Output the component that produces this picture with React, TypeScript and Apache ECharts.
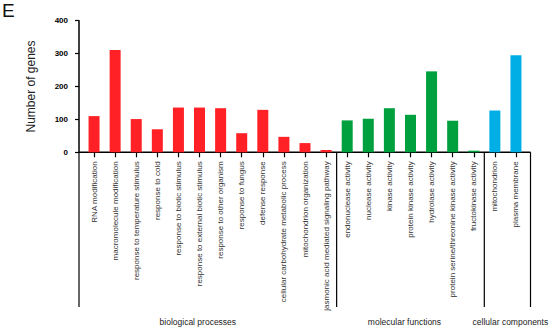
import React, { useEffect, useRef } from "react";
import * as echarts from "echarts";

const categories = [
  "RNA modification",
  "macromolecule modification",
  "response to temperature stimulus",
  "response to cold",
  "response to biotic stimulus",
  "response to external biotic stimulus",
  "response to other organism",
  "response to fungus",
  "defense response",
  "cellular carbohydrate metabolic process",
  "mitochondrion organization",
  "jasmonic acid mediated signaling pathway",
  "endonuclease activity",
  "nuclease activity",
  "kinase activity",
  "protein kinase activity",
  "hydrolase activity",
  "protein serine/threonine kinase activity",
  "fructokinase activity",
  "mitochondrion",
  "plasma membrane",
];

const values = [110, 311, 101, 70, 136, 136, 134, 58, 129, 47, 28, 7, 97, 102, 134, 114, 246, 96, 5, 127, 295];

// group index for each category: 0 biological, 1 molecular, 2 cellular
const groupOf = [0, 0, 0, 0, 0, 0, 0, 0, 0, 0, 0, 0, 1, 1, 1, 1, 1, 1, 1, 2, 2];
const groupNames = ["biological processes", "molecular functions", "cellular components"];
const groupColors = ["#ff2126", "#00a03e", "#00aee6"];

const yTicks = [0, 100, 200, 300, 400];

export default function App() {
  const ref = useRef<HTMLDivElement>(null);
  useEffect(() => {
    if (!ref.current) return;
    const chart = echarts.init(ref.current, null, { renderer: "svg" });
    const font = "Liberation Sans, Arial, sans-serif";
    chart.setOption({
      animation: false,
      grid: { left: 83.5, right: 23.5, top: 20.7, bottom: 175.7, containLabel: false },
      xAxis: {
        type: "category",
        data: categories,
        axisLine: { show: false },
        axisTick: { show: true, alignWithLabel: true, length: 5, lineStyle: { color: "#000", width: 1.2 } },
        axisLabel: {
          rotate: 90,
          interval: 0,
          margin: 9,
          fontSize: 8,
          color: "#333",
          fontFamily: font,
        },
      },
      yAxis: {
        type: "value",
        min: yTicks[0],
        max: yTicks[yTicks.length - 1],
        interval: 100,
        offset: 4.5,
        name: "Number of genes",
        nameLocation: "middle",
        nameGap: 42,
        nameTextStyle: { fontSize: 12, color: "#222", fontFamily: font },
        axisLine: { show: true, lineStyle: { color: "#000", width: 1.5 } },
        axisTick: { show: true, length: 4, lineStyle: { color: "#000", width: 1.2 } },
        axisLabel: { fontSize: 8, fontWeight: "bold", color: "#000", margin: 11, fontFamily: font },
        splitLine: { show: false },
      },
      series: [
        {
          type: "bar",
          barWidth: 11,
          data: values.map((v, i) => ({ value: v, itemStyle: { color: groupColors[groupOf[i]] } })),
        },
      ],
    });

    const cx = (i: number) => chart.convertToPixel({ xAxisIndex: 0 }, i) as number;
    const band = cx(1) - cx(0);
    const y0 = chart.convertToPixel({ yAxisIndex: 0 }, 0) as number;
    const axisX = cx(0) - band / 2 - 4.5;
    const endX = cx(categories.length - 1) + band / 2 + 4;
    const bottomY = 307;
    const lineStyle = { stroke: "#000", lineWidth: 1.2 };
    const graphic: any[] = [
      { type: "text", left: 2, top: 1, style: { text: "E", fontSize: 19, fill: "#111", fontFamily: font } },
      { type: "line", shape: { x1: axisX, y1: y0, x2: endX, y2: y0 }, style: { stroke: "#000", lineWidth: 1.5 } },
      { type: "line", shape: { x1: axisX, y1: y0, x2: axisX, y2: bottomY }, style: lineStyle },
      { type: "line", shape: { x1: endX, y1: y0, x2: endX, y2: bottomY }, style: lineStyle },
    ];
    const groupLabelX = [-10, -6, 3];
    for (let g = 0; g < groupNames.length; g++) {
      const idx = groupOf.map((v, i) => (v === g ? i : -1)).filter((i) => i >= 0);
      const first = idx[0];
      const last = idx[idx.length - 1];
      const left = g === 0 ? axisX : cx(first) - band / 2;
      const right = g === groupNames.length - 1 ? endX : cx(last) + band / 2;
      if (g > 0) {
        graphic.push({ type: "line", shape: { x1: left, y1: y0, x2: left, y2: bottomY }, style: lineStyle });
      }
      graphic.push({
        type: "text",
        x: (left + right) / 2 + groupLabelX[g],
        y: 321.7,
        style: {
          text: groupNames[g],
          fontSize: 8.5,
          fill: "#222",
          fontFamily: font,
          align: "center",
          verticalAlign: "middle",
        },
      });
    }
    chart.setOption({ graphic });
    return () => chart.dispose();
  }, []);
  return (
    <div
      ref={ref}
      style={{ position: "fixed", left: 0, top: 0, width: 550, height: 328, background: "#fff" }}
    />
  );
}
